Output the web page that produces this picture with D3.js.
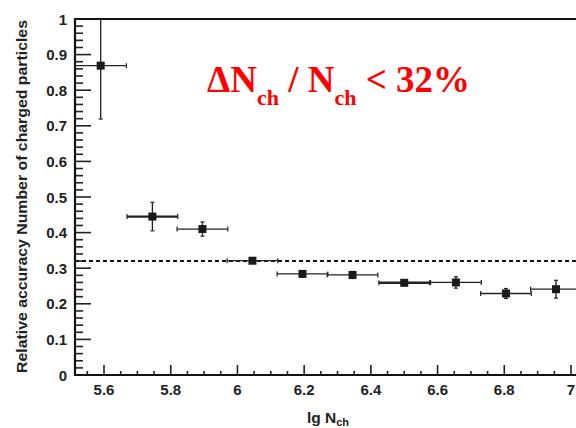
<!DOCTYPE html>
<html><head><meta charset="utf-8">
<script src="https://cdn.jsdelivr.net/npm/d3@7"></script>
<style>body{margin:0;background:#fff}svg{display:block}</style>
</head><body><svg id="c" width="576" height="428"></svg>
<script>
// data
const lgN    = [5.59, 5.745, 5.895, 6.045, 6.195, 6.345, 6.50, 6.655, 6.805, 6.955];
const accur  = [0.869, 0.445, 0.410, 0.321, 0.284, 0.281, 0.259, 0.260, 0.229, 0.241];
const xErr   = [0.077, 0.076, 0.076, 0.076, 0.076, 0.076, 0.076, 0.076, 0.076, 0.076];
const yErr   = [0.150, 0.040, 0.020, 0.006, 0.008, 0.010, 0.008, 0.016, 0.014, 0.025];
const limit  = 0.32;
const xTicks = [5.6, 5.8, 6.0, 6.2, 6.4, 6.6, 6.8, 7.0];
const yTicks = [0, 0.1, 0.2, 0.3, 0.4, 0.5, 0.6, 0.7, 0.8, 0.9, 1];

const svg = d3.select("#c");
const L = 75, R = 576, T = 19, B = 375;
const x = d3.scaleLinear().domain([5.513, 7.0]).range([L, 571]);
const y = d3.scaleLinear().domain([0, 1]).range([B, T]);
const font = "Liberation Sans, Arial, sans-serif";

svg.append("defs").append("clipPath").attr("id","pc")
  .append("rect").attr("x",L).attr("y",T).attr("width",R-L).attr("height",B-T);

// y axis ticks
const yMinor = d3.range(0, 1.0001, 0.02);
svg.append("g").selectAll("line").data(yMinor).join("line")
  .attr("x1", L).attr("x2", d => (Math.abs(d*10 - Math.round(d*10)) < 1e-6) ? L+16 : L+8)
  .attr("y1", d => y(d)).attr("y2", d => y(d))
  .attr("stroke","#222").attr("stroke-width",1.6);
svg.append("g").selectAll("text").data(yTicks).join("text")
  .attr("x", 67).attr("y", d => y(d) + 5.5)
  .attr("text-anchor","end").attr("font-family",font).attr("font-weight","bold")
  .attr("font-size",15).attr("fill","#222")
  .text(d => d3.format("~g")(d));

// x axis ticks
const xMinor = d3.range(5.55, 7.0001, 0.05);
svg.append("g").selectAll("line").data(xMinor).join("line")
  .attr("x1", d => x(d)).attr("x2", d => x(d))
  .attr("y1", B).attr("y2", d => xTicks.some(t => Math.abs(t-d) < 1e-6) ? B-10 : B-4)
  .attr("stroke","#222").attr("stroke-width",1.6);
svg.append("g").selectAll("text").data(xTicks).join("text")
  .attr("x", d => x(d)).attr("y", 395)
  .attr("text-anchor","middle").attr("font-family",font).attr("font-weight","bold")
  .attr("font-size",15).attr("fill","#222")
  .text(d => d3.format("~g")(d));

// frame
svg.append("path").attr("d", `M${R},${T}H${L}V${B}H${R}`)
  .attr("fill","none").attr("stroke","#111").attr("stroke-width",2.2);

// dashed limit line
svg.append("line").attr("x1",L).attr("x2",R).attr("y1",y(limit)).attr("y2",y(limit))
  .attr("stroke","#111").attr("stroke-width",2).attr("stroke-dasharray","4,3");

// error bars & markers
const pts = lgN.map((v,i) => ({x:v, y:accur[i], ex:xErr[i], ey:yErr[i]}));
const g = svg.append("g").attr("clip-path","url(#pc)");
const eb = g.selectAll("g").data(pts).join("g").attr("stroke","#222");
eb.append("line").attr("x1",d=>x(d.x-d.ex)).attr("x2",d=>x(d.x+d.ex))
  .attr("y1",d=>y(d.y)).attr("y2",d=>y(d.y)).attr("stroke-width",(d,i)=> (i===1||i===6)?2.4:1.3);
eb.append("line").attr("x1",d=>x(d.x)).attr("x2",d=>x(d.x))
  .attr("y1",d=>y(d.y-d.ey)).attr("y2",d=>y(d.y+d.ey)).attr("stroke-width",1.3);
// end caps
eb.each(function(d){
  const s = d3.select(this);
  [d.x-d.ex, d.x+d.ex].forEach(v => s.append("line").attr("x1",x(v)).attr("x2",x(v))
    .attr("y1",y(d.y)-2.5).attr("y2",y(d.y)+2.5).attr("stroke-width",1.2));
  [d.y-d.ey, d.y+d.ey].forEach(v => s.append("line").attr("x1",x(d.x)-2).attr("x2",x(d.x)+2)
    .attr("y1",y(v)).attr("y2",y(v)).attr("stroke-width",1.2));
});
g.selectAll("rect.m").data(pts).join("rect").attr("class","m")
  .attr("x",d=>x(d.x)-4).attr("y",d=>y(d.y)-4).attr("width",8).attr("height",8)
  .attr("fill","#1a1a1a");

// axis titles
const xt = svg.append("text").attr("x",328).attr("y",423).attr("text-anchor","middle")
  .attr("font-family",font).attr("font-weight","bold").attr("font-size",15.5).attr("fill","#222");
xt.append("tspan").text("lg N");
xt.append("tspan").attr("font-size",11).attr("dy",3).text("ch");

svg.append("text").attr("transform","translate(27,196.5) rotate(-90)")
  .attr("text-anchor","middle").attr("font-family",font).attr("font-weight","bold")
  .attr("font-size",14.5).attr("fill","#222")
  .attr("textLength",353).attr("lengthAdjust","spacingAndGlyphs")
  .text("Relative accuracy Number of charged particles");

// red annotation
const rt = svg.append("text").attr("x",207).attr("y",92)
  .attr("font-family","Liberation Serif, Times New Roman, serif").attr("font-weight","bold")
  .attr("font-size",37).attr("fill","#ff0000");
rt.append("tspan").text("ΔN");
rt.append("tspan").attr("font-size",22).attr("dy",13).text("ch");
rt.append("tspan").attr("dy",-13).text(" / N");
rt.append("tspan").attr("font-size",22).attr("dy",13).text("ch");
rt.append("tspan").attr("dy",-13).text(" < 32%");
</script></body></html>
